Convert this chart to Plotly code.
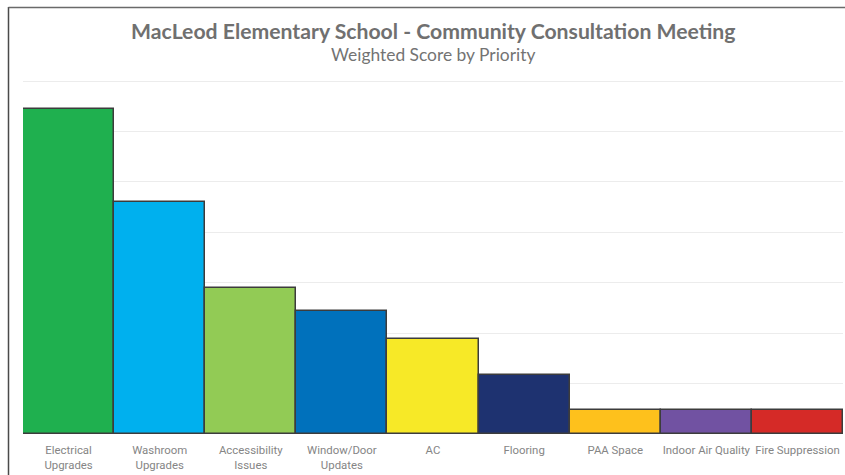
import plotly.graph_objects as go

categories = ["Electrical<br>Upgrades", "Washroom<br>Upgrades", "Accessibility<br>Issues",
              "Window/Door<br>Updates", "AC", "Flooring", "PAA Space",
              "Indoor Air Quality", "Fire Suppression"]
scores = [322, 230, 145, 122, 94, 59, 24, 24, 24]
colors = ["#1FB04F", "#00B0EE", "#92CB55", "#0071BC", "#F7E927",
          "#1E3270", "#FEC11C", "#7152A2", "#D52A27"]

W, H = 845, 475
ml, mr, mt, mb = 23, 2, 79, 41
ph = H - mt - mb
pw = W - ml - mr

fig = go.Figure(go.Bar(
    x=categories, y=scores,
    marker=dict(color=colors, line=dict(color="#3c3c3c", width=1.5)),
    width=1.0,
))

def px_x(px):
    return (px - ml) / pw

def px_y(py):
    return (H - mb - py) / ph

fig.update_layout(
    width=W, height=H,
    margin=dict(l=ml, r=mr, t=mt, b=mb),
    paper_bgcolor="white", plot_bgcolor="white",
    showlegend=False, bargap=0,
    xaxis=dict(showgrid=False, showline=False, zeroline=False,
               ticks="outside", ticklen=5, tickcolor="rgba(0,0,0,0)",
               tickfont=dict(family="Roboto", size=11.4, color="#858585")),
    yaxis=dict(range=[0, 352], tickvals=[50, 100, 150, 200, 250, 300, 350],
               showticklabels=False,
               showgrid=True, gridcolor="#ECECEC", gridwidth=1.2,
               zeroline=False, showline=False),
    annotations=[
        dict(text="<b>MacLeod Elementary School - Community Consultation Meeting</b>",
             x=0.5, y=px_y(31), xref="paper", yref="paper", showarrow=False,
             xanchor="center", yanchor="middle",
             font=dict(family="Lato", size=21.2, color="#707070")),
        dict(text="Weighted Score by Priority",
             x=0.5, y=px_y(54), xref="paper", yref="paper", showarrow=False,
             xanchor="center", yanchor="middle",
             font=dict(family="Lato", size=17.4, color="#737373")),
    ],
    shapes=[
        dict(type="line", xref="paper", yref="paper",
             x0=px_x(8.5), x1=px_x(8.5), y0=px_y(7), y1=px_y(476),
             line=dict(color="#4a4a4a", width=1.5)),
        dict(type="line", xref="paper", yref="paper",
             x0=px_x(8.5), x1=px_x(846), y0=px_y(7.5), y1=px_y(7.5),
             line=dict(color="#6a6a6a", width=1.5)),
    ],
)

fig.write_html("out.html")
